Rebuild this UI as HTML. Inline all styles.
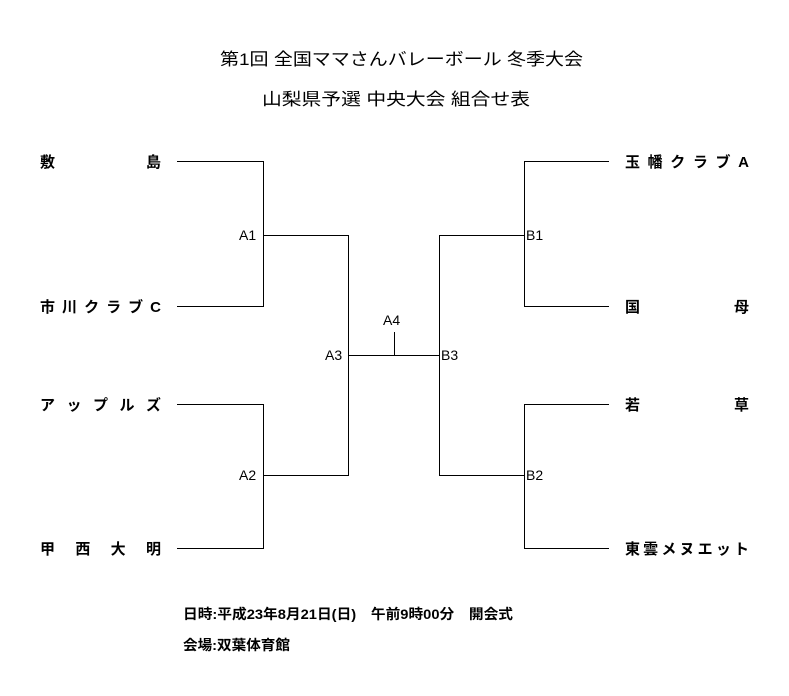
<!DOCTYPE html>
<html><head><meta charset="utf-8"><style>
html,body{margin:0;padding:0;background:#fff;}
svg{display:block;}
text{font-family:"Liberation Sans","Noto Sans CJK JP",sans-serif;fill:#000;}
</style></head><body>
<svg width="789" height="696" viewBox="0 0 789 696" xmlns="http://www.w3.org/2000/svg">
<g font-size="17">
<text x="220" y="65" textLength="363" lengthAdjust="spacingAndGlyphs">第1回 全国ママさんバレーボール 冬季大会</text>
<text x="262" y="105" textLength="268" lengthAdjust="spacingAndGlyphs">山梨県予選 中央大会 組合せ表</text>
</g>
<g font-size="15" font-weight="bold">
<text x="40" y="167" textLength="121" lengthAdjust="spacing">敷　　　　島</text>
<text x="40" y="312" textLength="121" lengthAdjust="spacing">市川クラブC</text>
<text x="40" y="410" textLength="121" lengthAdjust="spacing">アップルズ</text>
<text x="40" y="554" textLength="121" lengthAdjust="spacing">甲西大明</text>
<text x="625" y="167" textLength="124" lengthAdjust="spacing">玉幡クラブA</text>
<text x="625" y="312" textLength="124" lengthAdjust="spacing">国　　　　母</text>
<text x="625" y="410" textLength="124" lengthAdjust="spacing">若　　　　草</text>
<text x="625" y="554" textLength="124" lengthAdjust="spacing">東雲メヌエット</text>
</g>
<g font-size="14">
<text x="239" y="240">A1</text>
<text x="239" y="480">A2</text>
<text x="325" y="360">A3</text>
<text x="383" y="325">A4</text>
<text x="526" y="240">B1</text>
<text x="526" y="480">B2</text>
<text x="441" y="360">B3</text>
</g>
<g stroke="#000" stroke-width="1" fill="none" shape-rendering="crispEdges">
<polyline points="177,161.5 263.5,161.5 263.5,306.5 177,306.5"/>
<polyline points="177,404.5 263.5,404.5 263.5,548.5 177,548.5"/>
<polyline points="263.5,235.5 348.5,235.5 348.5,475.5 263.5,475.5"/>
<polyline points="609,161.5 524.5,161.5 524.5,306.5 609,306.5"/>
<polyline points="609,404.5 524.5,404.5 524.5,548.5 609,548.5"/>
<polyline points="524.5,235.5 439.5,235.5 439.5,475.5 524.5,475.5"/>
<line x1="348.5" y1="355.5" x2="439.5" y2="355.5"/>
<line x1="394.5" y1="332" x2="394.5" y2="355.5"/>
</g>
<g font-size="14" font-weight="bold">
<text x="183" y="619" textLength="330" lengthAdjust="spacingAndGlyphs">日時:平成23年8月21日(日)　午前9時00分　開会式</text>
<text x="183" y="650" textLength="107" lengthAdjust="spacingAndGlyphs">会場:双葉体育館</text>
</g>
</svg>
</body></html>
